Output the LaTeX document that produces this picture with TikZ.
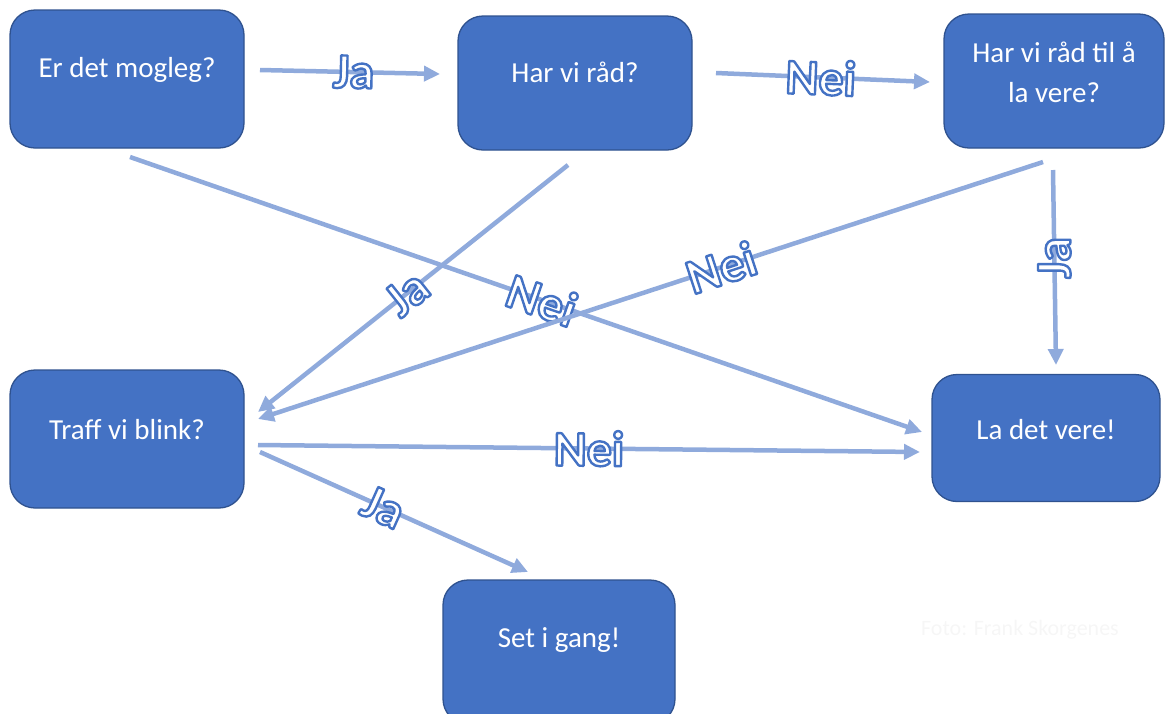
\documentclass[tikz,border=0pt]{standalone}
\usepackage{fontspec}
\setmainfont{Carlito}
\usetikzlibrary{calc,arrows.meta}
\definecolor{boxblue}{HTML}{4472C4}
\definecolor{boxedge}{HTML}{2F528F}
\definecolor{arrowblue}{HTML}{8FAADC}
\definecolor{wmgray}{HTML}{F6F6F6}
\tikzset{
  box/.style={draw=boxedge, line width=1.3pt, fill=boxblue, rounded corners=25pt, inner sep=0pt},
  boxtext/.style={text=white, font=\fontsize{29}{40}\selectfont, align=center, inner sep=0pt},
  conn/.style={draw=arrowblue, line width=4.5pt, -{Triangle[length=16pt,width=15pt]}},
  lbl/.style={inner sep=0pt, font=\fontsize{50}{50}\selectfont\bfseries},
}
\newcommand{\lab}[1]{{\color{white}\special{pdf:code 2 Tr 2.4 w 1 j 0.267 0.447 0.769 RG}#1\special{pdf:code 0 Tr}}}
\begin{document}
\begin{tikzpicture}[x=1pt,y=-1pt]
\useasboundingbox (0,0) rectangle (1167,713);
\begin{scope}
\clip (0,0) rectangle (1167,713);
% boxes
\node[box, minimum width=234pt, minimum height=138pt] (b1) at (127,79) {};
\node[box, minimum width=234pt, minimum height=134pt] (b2) at (575,83) {};
\node[box, minimum width=220pt, minimum height=134pt] (b3) at (1054,81) {};
\node[box, minimum width=234pt, minimum height=138pt] (b4) at (127,439) {};
\node[box, minimum width=228pt, minimum height=127pt] (b5) at (1046,438) {};
\node[box, minimum width=232pt, minimum height=144pt] (b6) at (559,652) {};
\end{scope}
% box texts
\node[boxtext] (t1) at ($(b1.center)+(0,-9)$) {Er det mogleg?};
\node[boxtext] (t2) at ($(b2.center)+(0,-11)$) {Har vi råd?};
\node[boxtext] (t3) at ($(b3.center)+(0,-9)$) {Har vi råd til å\\la vere?};
\node[boxtext] (t4) at ($(b4.center)+(0,-9)$) {Traff vi blink?};
\node[boxtext] (t5) at ($(b5.center)+(0,-8)$) {La det vere!};
\node[boxtext] (t6) at ($(b6.center)+(0,-12)$) {Set i gang!};
% connectors
\draw[conn] ($(b1.center)+(133,-9)$) -- node[lbl,sloped,pos=0.52]{\lab{Ja}} ($(b2.center)+(-135,-9)$);
\draw[conn] ($(b2.center)+(141,-10)$) -- node[lbl,sloped,pos=0.49]{\lab{Nei}} ($(b3.center)+(-124,1)$);
\draw[conn] ($(b1.center)+(3,78)$) -- node[lbl,sloped,pos=0.52]{\lab{Nei}} ($(b5.center)+(-124,-6)$);
\draw[conn] ($(b2.center)+(-7,82)$) -- node[lbl,sloped,pos=0.52]{\lab{Ja}} ($(b4.center)+(131,-27)$);
\draw[conn] ($(b3.center)+(-11,81)$) -- node[lbl,sloped,pos=0.41]{\lab{Nei}} ($(b4.center)+(131,-20)$);
\draw[conn] ($(b3.center)+(-1,89)$) -- node[lbl,rotate=90,pos=0.45]{\lab{Ja}} ($(b5.center)+(10,-73)$);
\draw[conn] ($(b4.center)+(131,6)$) -- node[lbl,sloped,pos=0.5]{\lab{Nei}} ($(b5.center)+(-126,14)$);
\draw[conn] ($(b4.center)+(133,13)$) -- node[lbl,sloped,pos=0.46]{\lab{Ja}} ($(b6.center)+(-31,-80)$);
% watermark
\node[text=wmgray, font=\fontsize{22}{22}\selectfont, inner sep=0pt] (wm) at (1020,630) {Foto: Frank Skorgenes};
\end{tikzpicture}
\end{document}
